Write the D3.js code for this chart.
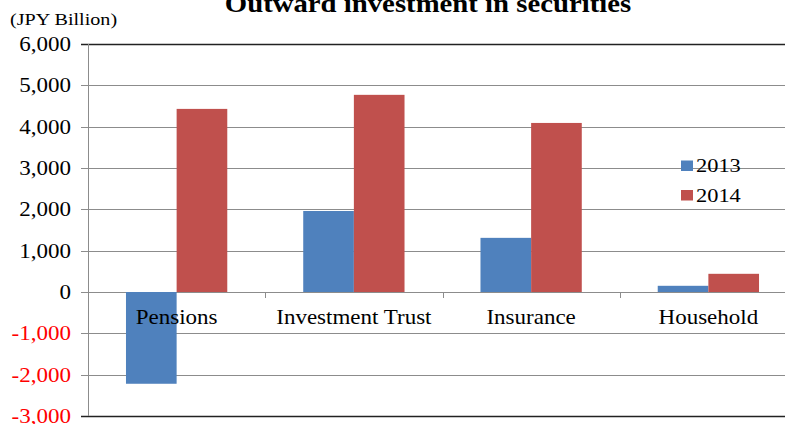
<!DOCTYPE html>
<html>
<head>
<meta charset="utf-8"/>
<title>Outward investment in securities</title>
<script src="https://cdn.jsdelivr.net/npm/d3@7"></script>
<style>
	body { margin: 0; background: #fff; }
	svg text { font-family: "Liberation Serif", "Times New Roman", serif; }
</style>
</head>
<body>
<div id="chart"></div>
<script>
	// Data
	var categories = ["Pensions", "Investment Trust", "Insurance", "Household"];
	var seriesNames = ["2013", "2014"];
	var values2013 = [-2220, 1960, 1310, 150];
	var values2014 = [4430, 4770, 4090, 440];
	var yTicks = [-3000, -2000, -1000, 0, 1000, 2000, 3000, 4000, 5000, 6000];
	var colors = ["#4F81BD", "#C0504D"];

	var W = 785, H = 424;
	var plotLeft = 88, plotRight = 797, plotTop = 44, plotBottom = 416;
	var stretch = 1.15; // the reference text is a bit wider than plain Times

	var svg = d3.select("#chart").append("svg").attr("width", W).attr("height", H)
		.attr("font-family", "Liberation Serif, Times New Roman, serif");

	var x = d3.scaleBand().domain(categories).range([plotLeft, plotRight]).paddingInner(0).paddingOuter(0);
	var xs = d3.scaleBand().domain(seriesNames).range([0, x.bandwidth()]).paddingInner(0).paddingOuter(0.75);
	var y = d3.scaleLinear().domain([-3000, 6000]).range([plotBottom, plotTop]);

	function at(px, py) { return "translate(" + px + "," + py + ") scale(" + stretch + ",1)"; }

	// gridlines
	svg.append("g").selectAll("line").data(yTicks).join("line")
		.attr("x1", plotLeft - 7).attr("x2", plotRight)
		.attr("y1", function(d) { return Math.round(y(d)) + 0.5; })
		.attr("y2", function(d) { return Math.round(y(d)) + 0.5; })
		.attr("stroke", function(d) { return (d === 6000 || d === -3000) ? "#222" : "#8c8c8c"; })
		.attr("stroke-width", function(d) { return (d === 6000 || d === -3000) ? 1.3 : 1; });

	// y axis line
	svg.append("line").attr("x1", plotLeft + 0.5).attr("x2", plotLeft + 0.5)
		.attr("y1", plotTop).attr("y2", plotBottom).attr("stroke", "#8c8c8c");

	// y tick labels
	var fmt = d3.format(",");
	svg.append("g").selectAll("text").data(yTicks).join("text")
		.attr("transform", function(d) { return at(71, y(d) + 7); })
		.attr("text-anchor", "end").attr("font-size", 20)
		.attr("fill", function(d) { return d < 0 ? "#ff0000" : "#000"; })
		.text(function(d) { return d < 0 ? "-" + fmt(-d) : fmt(d); });

	// bars
	var rows = categories.map(function(c, i) { return { cat: c, vals: [values2013[i], values2014[i]] }; });
	var groups = svg.append("g").selectAll("g").data(rows).join("g")
		.attr("transform", function(d) { return "translate(" + x(d.cat) + ",0)"; });
	groups.selectAll("rect").data(function(d) {
		return d.vals.map(function(v, j) { return { s: seriesNames[j], v: v, j: j }; });
	}).join("rect")
		.attr("x", function(d) { return xs(d.s); })
		.attr("width", xs.bandwidth())
		.attr("y", function(d) { return y(Math.max(0, d.v)); })
		.attr("height", function(d) { return Math.abs(y(d.v) - y(0)); })
		.attr("fill", function(d) { return colors[d.j]; });

	// category tick marks on zero line
	svg.append("g").selectAll("line").data(categories.slice(1)).join("line")
		.attr("x1", function(d) { return Math.round(x(d)) + 0.5; })
		.attr("x2", function(d) { return Math.round(x(d)) + 0.5; })
		.attr("y1", y(0)).attr("y2", y(0) + 6).attr("stroke", "#8c8c8c");

	// category labels
	svg.append("g").selectAll("text").data(categories).join("text")
		.attr("transform", function(d) { return at(x(d) + x.bandwidth() / 2, y(0) + 32); })
		.attr("text-anchor", "middle").attr("font-size", 20)
		.text(function(d) { return d; });

	// title + unit
	svg.append("text").attr("transform", at(428, 12)).attr("text-anchor", "middle")
		.attr("font-size", 25).attr("font-weight", "bold").text("Outward investment in securities");
	svg.append("text").attr("transform", at(10, 25)).attr("font-size", 17.5).text("(JPY Billion)");

	// legend
	var lg = svg.append("g").selectAll("g").data(seriesNames).join("g")
		.attr("transform", function(d, i) { return "translate(681," + (160.5 + i * 29.5) + ")"; });
	lg.append("rect").attr("width", 12).attr("height", 10.5)
		.attr("fill", function(d, i) { return colors[i]; });
	lg.append("text").attr("transform", at(15, 11.5)).attr("font-size", 19.5).text(function(d) { return d; });
</script>
</body>
</html>
